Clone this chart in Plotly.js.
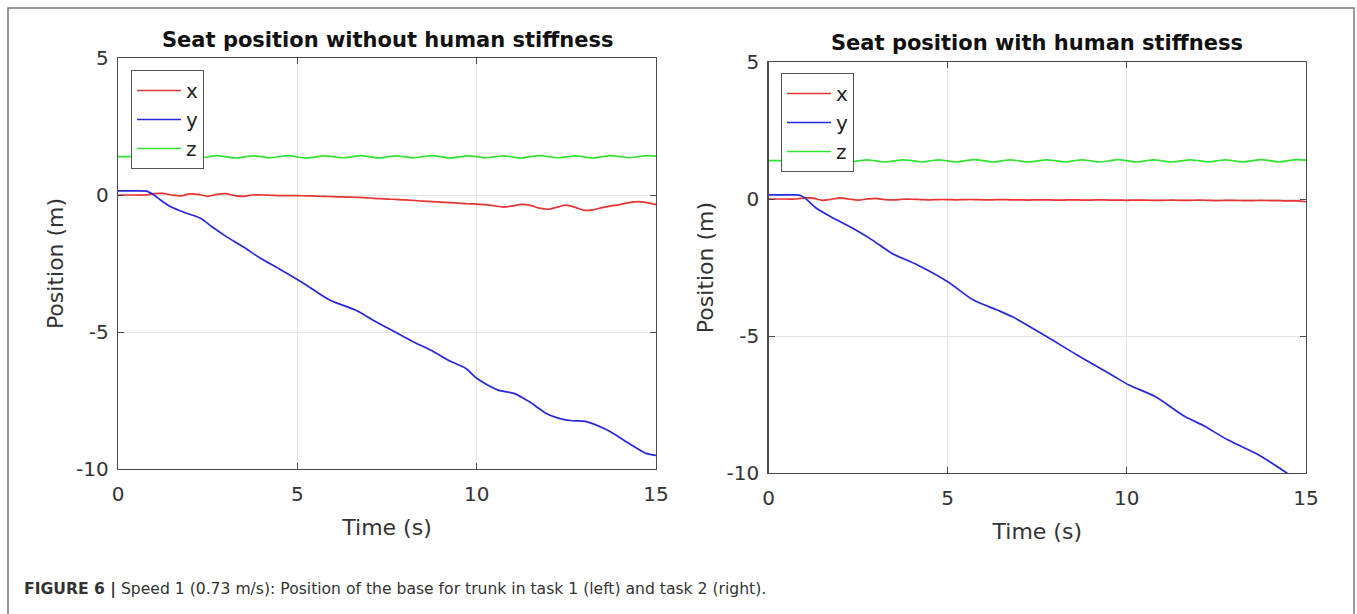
<!DOCTYPE html>
<html><head><meta charset="utf-8">
<script src="https://cdn.plot.ly/plotly-3.0.1.min.js"></script>
<style>html,body{margin:0;padding:0;background:#fff}#chart{width:1357px;height:614px}</style>
</head><body><div id="chart"></div><script>
// ---- data ----
const seriesNames = ['x', 'y', 'z'];
const tFine = [0,0.25,0.5,0.75,1,1.25,1.5,1.75,2,2.25,2.5,2.75,3,3.25,3.5,3.75,4,4.25,4.5,4.75,5,5.25,5.5,5.75,6,6.25,6.5,6.75,7,7.25,7.5,7.75,8,8.25,8.5,8.75,9,9.25,9.5,9.75,10,10.25,10.5,10.75,11,11.25,11.5,11.75,12,12.25,12.5,12.75,13,13.25,13.5,13.75,14,14.25,14.5,14.75,15];

// Left: without human stiffness
const leftX = [0,0,0,0,0.05,0.06,0.0,-0.03,0.04,0.02,-0.05,0.02,0.05,-0.02,-0.05,0.0,0.0,-0.01,-0.02,-0.02,-0.02,-0.03,-0.04,-0.05,-0.06,-0.07,-0.08,-0.09,-0.11,-0.13,-0.15,-0.16,-0.18,-0.2,-0.22,-0.24,-0.26,-0.28,-0.3,-0.32,-0.33,-0.35,-0.4,-0.44,-0.4,-0.34,-0.38,-0.48,-0.52,-0.44,-0.37,-0.45,-0.56,-0.54,-0.46,-0.4,-0.35,-0.28,-0.24,-0.28,-0.35];
const leftZ = [1.40,1.40,1.40,1.40,1.39,1.36,1.39,1.43,1.40,1.35,1.39,1.44,1.40,1.35,1.39,1.43,1.40,1.36,1.40,1.44,1.39,1.35,1.39,1.43,1.40,1.36,1.39,1.44,1.40,1.35,1.39,1.43,1.39,1.36,1.40,1.44,1.40,1.35,1.39,1.43,1.40,1.36,1.39,1.43,1.39,1.35,1.40,1.44,1.40,1.36,1.39,1.43,1.39,1.35,1.40,1.44,1.40,1.36,1.40,1.44,1.42];
const tYLeft = [0,0.5,0.8,1.0,1.2,1.5,1.9,2.3,2.63,3.0,3.5,3.96,4.5,5.17,5.9,6.62,7.1,7.71,8.3,8.8,9.28,9.7,10.0,10.6,11.04,11.46,11.94,12.3,12.66,13.03,13.64,14.24,14.72,15];
const leftY = [0.15,0.15,0.14,0.0,-0.2,-0.45,-0.66,-0.85,-1.17,-1.5,-1.9,-2.3,-2.7,-3.22,-3.83,-4.2,-4.56,-4.99,-5.4,-5.72,-6.08,-6.33,-6.69,-7.12,-7.24,-7.54,-7.97,-8.15,-8.24,-8.26,-8.58,-9.06,-9.43,-9.5];

// Right: with human stiffness
const rightX = [0,0,0,0,0.04,0.03,-0.05,-0.01,0.04,0.0,-0.04,0.0,0.02,-0.02,-0.03,-0.01,-0.01,-0.02,-0.03,-0.02,-0.02,-0.03,-0.02,-0.02,-0.03,-0.03,-0.02,-0.03,-0.03,-0.04,-0.03,-0.03,-0.04,-0.04,-0.03,-0.04,-0.04,-0.03,-0.04,-0.04,-0.05,-0.04,-0.04,-0.05,-0.05,-0.04,-0.05,-0.05,-0.04,-0.05,-0.06,-0.05,-0.05,-0.06,-0.06,-0.05,-0.06,-0.06,-0.07,-0.07,-0.1];
const rightZ = [1.40,1.40,1.40,1.40,1.39,1.35,1.39,1.43,1.40,1.35,1.39,1.43,1.39,1.35,1.39,1.43,1.40,1.35,1.39,1.43,1.39,1.35,1.40,1.44,1.40,1.35,1.39,1.43,1.39,1.35,1.39,1.43,1.40,1.35,1.39,1.43,1.39,1.35,1.39,1.44,1.40,1.35,1.39,1.43,1.39,1.35,1.39,1.43,1.40,1.35,1.39,1.43,1.39,1.35,1.40,1.44,1.40,1.35,1.40,1.44,1.42];
const tYRight = [0,0.5,0.85,1.0,1.3,1.74,2.35,2.9,3.44,4.16,5.0,5.72,6.38,6.81,7.77,8.61,9.58,10.06,10.79,11.62,12.11,12.83,13.68,14.0,14.46,14.6];
const rightY = [0.15,0.15,0.14,0.05,-0.3,-0.65,-1.07,-1.5,-1.98,-2.41,-3.02,-3.69,-4.05,-4.3,-5.03,-5.69,-6.42,-6.79,-7.21,-7.94,-8.25,-8.8,-9.34,-9.6,-10.0,-10.15];

const xTicks = [0, 5, 10, 15];
const yTicks = [-10, -5, 0, 5];
const titles = ['Seat position without human stiffness', 'Seat position with human stiffness'];
const xTitle = 'Time (s)';
const yTitle = 'Position (m)';
const caption = '<b>FIGURE 6 |</b> Speed 1 (0.73 m/s): Position of the base for trunk in task 1 (left) and task 2 (right).';

// ---- styling ----
const W = 1357, H = 614;
const FONT = 'DejaVu Sans';
const colors = {x: 'rgb(232,52,52)', y: 'rgb(40,40,222)', z: 'rgb(48,228,48)'};
const px = v => v / W;
const py = v => 1 - v / H;

function line(xs, ys, name, xa, ya, leg) {
  return {x: xs, y: ys, name: name, type: 'scatter', mode: 'lines', xaxis: xa, yaxis: ya,
    legend: leg, line: {color: colors[name], width: 1.7, shape: 'spline', smoothing: 0.8},
    hoverinfo: 'skip'};
}

const data = [
  line(tFine, leftX, 'x', 'x', 'y', 'legend'),
  line(tYLeft, leftY, 'y', 'x', 'y', 'legend'),
  line(tFine, leftZ, 'z', 'x', 'y', 'legend'),
  line(tFine, rightX, 'x', 'x2', 'y2', 'legend2'),
  line(tYRight, rightY, 'y', 'x2', 'y2', 'legend2'),
  line(tFine, rightZ, 'z', 'x2', 'y2', 'legend2')
];

function xax(domain, anchor) {
  return {domain: domain, anchor: anchor, range: [0, 15], tickvals: xTicks, ticktext: xTicks.map(String),
    showline: true, mirror: 'ticks', linecolor: '#4a4a4a', linewidth: 1.3,
    ticks: 'inside', ticklen: 6, tickcolor: '#4a4a4a', tickwidth: 1,
    showgrid: true, gridcolor: '#e3e3e3', gridwidth: 1, zeroline: false,
    tickfont: {family: FONT, size: 20, color: '#333'}, ticklabelstandoff: 7,
    title: {text: xTitle, font: {family: FONT, size: 22, color: '#333'}, standoff: 14},
    automargin: false, fixedrange: true};
}
function yax(domain, anchor) {
  return {domain: domain, anchor: anchor, range: [-10, 5], tickvals: yTicks, ticktext: yTicks.map(String),
    showline: true, mirror: 'ticks', linecolor: '#4a4a4a', linewidth: 1.3,
    ticks: 'inside', ticklen: 6, tickcolor: '#4a4a4a', tickwidth: 1,
    showgrid: true, gridcolor: '#e3e3e3', gridwidth: 1, zeroline: false,
    tickfont: {family: FONT, size: 20, color: '#333'}, ticklabelstandoff: 4,
    title: {text: yTitle, font: {family: FONT, size: 22, color: '#333'}, standoff: 6},
    automargin: false, fixedrange: true};
}

const legendBase = {bordercolor: '#555', borderwidth: 1, bgcolor: '#fff',
  font: {family: FONT, size: 20, color: '#222'}, xanchor: 'left', yanchor: 'top',
  itemwidth: 44, itemclick: false, itemdoubleclick: false, tracegroupgap: 0};

const layout = {
  width: W, height: H, margin: {l: 0, r: 0, t: 0, b: 0},
  paper_bgcolor: '#fff', plot_bgcolor: '#fff', showlegend: true,
  font: {family: FONT, color: '#333'},
  xaxis: xax([px(118), px(656)], 'y'),
  yaxis: yax([py(469), py(58)], 'x'),
  xaxis2: xax([px(768.5), px(1306)], 'y2'),
  yaxis2: yax([py(473), py(62)], 'x2'),
  legend: Object.assign({}, legendBase, {x: px(131), y: py(70)}),
  legend2: Object.assign({}, legendBase, {x: px(781), y: py(73)}),
  annotations: [
    {text: '<b>' + titles[0] + '</b>', xref: 'paper', yref: 'paper', x: px(387), y: py(40),
      xanchor: 'center', yanchor: 'middle', showarrow: false, font: {family: FONT, size: 21, color: '#111'}},
    {text: '<b>' + titles[1] + '</b>', xref: 'paper', yref: 'paper', x: px(1037), y: py(43),
      xanchor: 'center', yanchor: 'middle', showarrow: false, font: {family: FONT, size: 21, color: '#111'}},
    {text: caption, xref: 'paper', yref: 'paper', x: px(22), y: py(589),
      xanchor: 'left', yanchor: 'middle', showarrow: false,
      font: {family: FONT, size: 15.6, color: '#333'}}
  ],
  shapes: [
    {type: 'rect', xref: 'paper', yref: 'paper', x0: px(8), x1: px(1354), y0: -0.1, y1: py(8),
      line: {color: '#7a7a7a', width: 1.5}, fillcolor: 'rgba(0,0,0,0)', layer: 'below'}
  ]
};

Plotly.newPlot('chart', data, layout, {staticPlot: true, displayModeBar: false});
</script></body></html>
